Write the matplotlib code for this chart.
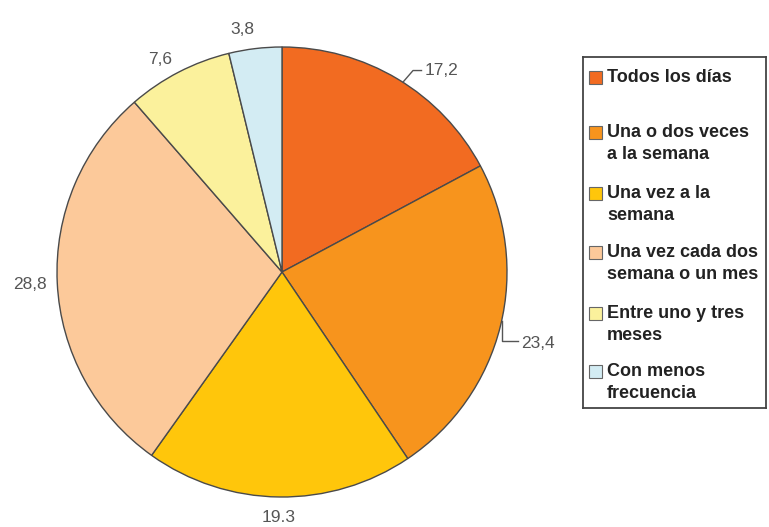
import matplotlib.pyplot as plt
from matplotlib.patches import Rectangle
import numpy as np

plt.rcParams['font.family'] = ['Liberation Sans', 'DejaVu Sans']

# ------------------------------- data --------------------------------------
categories = ['Todos los días',
              'Una o dos veces\na la semana',
              'Una vez a la\nsemana',
              'Una vez cada dos\nsemana o un mes',
              'Entre uno y tres\nmeses',
              'Con menos\nfrecuencia']
values = [17.2, 23.4, 19.3, 28.8, 7.6, 3.8]
value_labels = ['17,2', '23,4', '19.3', '28,8', '7,6', '3,8']
colors = ['#F26B21', '#F7941D', '#FFC60B', '#FCC99A', '#FBF19C', '#D3ECF3']

W, H = 769, 527
fig = plt.figure(figsize=(W / 100, H / 100), dpi=100)

# ------------------------------- pie ---------------------------------------
cx, cy, r = 282, 272, 225
ax = fig.add_axes([(cx - r) / W, (H - cy - r) / H, 2 * r / W, 2 * r / H])
wedges, _ = ax.pie(values, colors=colors, startangle=90, counterclock=False,
                   radius=1, wedgeprops=dict(edgecolor='#4a4a4a', linewidth=1.0))
ax.set_xlim(-1, 1)
ax.set_ylim(-1, 1)
ax.set_aspect('equal')
ax.axis('off')

lab_kw = dict(fontsize=12.5, color='#555555')
for i, (w, lab) in enumerate(zip(wedges, value_labels)):
    mid = np.deg2rad((w.theta1 + w.theta2) / 2)
    if i == 0:
        # leader line up and to the right
        a = np.deg2rad(57.5)
        x0, y0 = np.cos(a), np.sin(a)
        ax.plot([x0, x0 + 0.045, 0.62], [y0, y0 + 0.052, y0 + 0.052],
                color='#555555', lw=1, clip_on=False)
        ax.text(0.635, y0 + 0.052, lab, ha='left', va='center', **lab_kw)
    elif i == 1:
        # leader line down and to the right
        a = np.deg2rad(-12.6)
        x0, y0 = np.cos(a), np.sin(a)
        ax.plot([x0, x0, 1.05], [y0, y0 - 0.09, y0 - 0.09],
                color='#555555', lw=1, clip_on=False)
        ax.text(1.065, y0 - 0.1, lab, ha='left', va='center', **lab_kw)
    else:
        d = 1.12 if i == 3 else 1.09
        shift = np.deg2rad(2.5) if i in (4, 5) else 0.0
        ax.text(d * np.cos(mid + shift), d * np.sin(mid + shift), lab,
                ha='center', va='center', **lab_kw)

# ------------------------------ legend -------------------------------------
lx0, ly0, lw, lh = 583, 57, 183, 351
lax = fig.add_axes([lx0 / W, (H - ly0 - lh) / H, lw / W, lh / H])
lax.set_xlim(0, lw)
lax.set_ylim(lh, 0)
lax.set_xticks([])
lax.set_yticks([])
for s in lax.spines.values():
    s.set_color('#444444')
    s.set_linewidth(1.3)

row_tops = [20, 75, 136, 195, 256, 314]
for cat, col, y in zip(categories, colors, row_tops):
    lax.add_patch(Rectangle((6, y - 6), 13, 13, facecolor=col,
                            edgecolor='#666666', lw=0.8))
    lax.text(24, y - 8, cat, ha='left', va='top', fontsize=13,
             fontweight='bold', color='#222222', linespacing=1.4)

fig.savefig('out.png', dpi=100)
